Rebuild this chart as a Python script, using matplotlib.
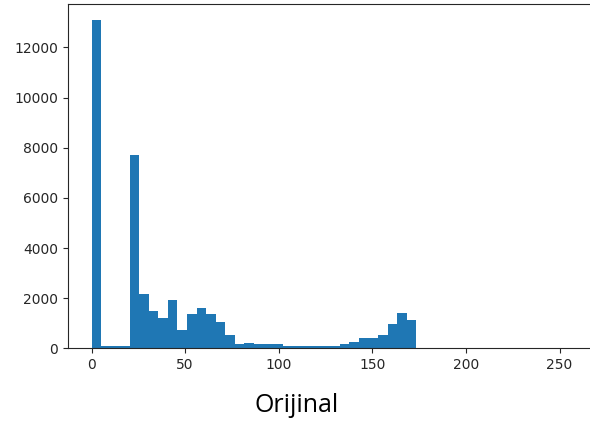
import numpy as np
import matplotlib
matplotlib.use("Agg")
import matplotlib.pyplot as plt

# Histogram: 50 bins over 0..255 (bin width 5.1)
bin_edges = np.linspace(0, 255, 51)
counts = [13090, 95, 95, 95, 7720, 2170, 1470, 1220, 1910, 720,
          1350, 1590, 1350, 1040, 540, 165, 230, 170, 170, 170,
          90, 90, 90, 90, 90, 95, 172, 245, 410, 410,
          550, 985, 1415, 1110, 0, 0, 0, 0, 0, 0,
          0, 0, 0, 0, 0, 0, 0, 0, 0, 0]
x_ticks = [0, 50, 100, 150, 200, 250]
y_ticks = [0, 2000, 4000, 6000, 8000, 10000, 12000]
caption = "Orijinal"

fig = plt.figure(figsize=(5.9, 4.28), dpi=100)
left_px, right_px = 67.7, 597.0
ax = fig.add_axes([left_px / 590, 1 - 348.3 / 428, (right_px - left_px) / 590, (348.3 - 3.7) / 428])
ax.hist(bin_edges[:-1], bins=bin_edges, weights=counts, color="#1f77b4")
ax.set_xlim(-12.75, 270)
ax.set_xticks(x_ticks)
ax.set_yticks(y_ticks)
ax.tick_params(labelsize=10, colors="#262626")
for s in ax.spines.values():
    s.set_color("#262626")

fig.text(297 / 590, 1 - 406 / 428, caption, ha="center", va="center",
         fontsize=18, family="Open Sans", color="black")

fig.savefig("out.png", dpi=100)
